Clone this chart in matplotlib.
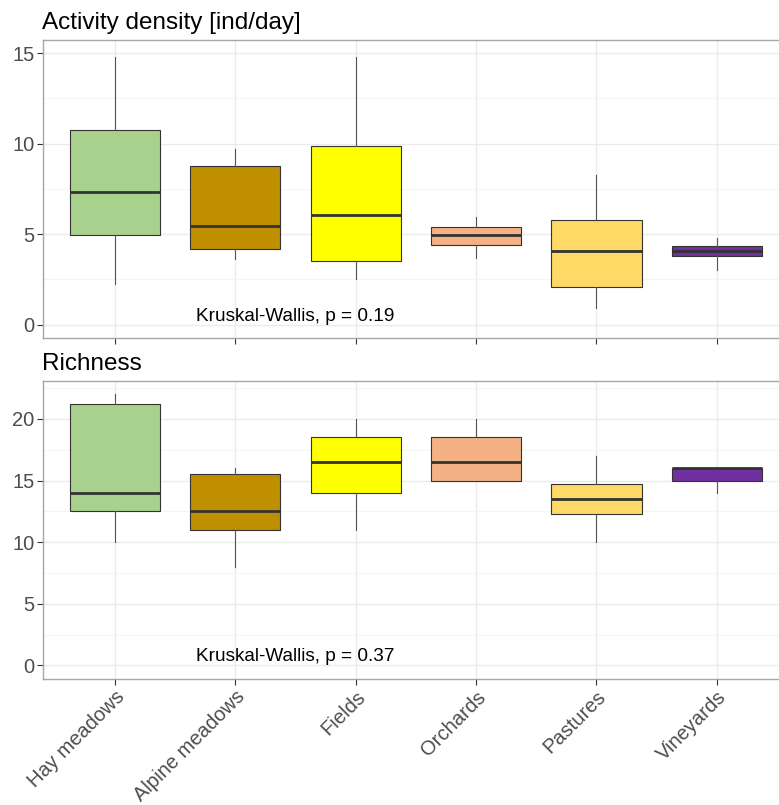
import matplotlib
matplotlib.use("Agg")
import matplotlib.pyplot as plt

plt.rcParams['font.family'] = ['Liberation Sans', 'DejaVu Sans']

# habitat categories and fill colours
habitats = ['Hay meadows', 'Alpine meadows', 'Fields', 'Orchards', 'Pastures', 'Vineyards']
colors = ['#A9D18E', '#BF8F00', '#FFFF00', '#F4B183', '#FFD966', '#7030A0']

# activity density [ind/day]: lower whisker, Q1, median, Q3, upper whisker
act_low = [2.26, 3.64, 2.52, 3.68, 0.92, 3.04]
act_q1 = [4.95, 4.18, 3.52, 4.40, 2.08, 3.79]
act_med = [7.31, 5.45, 6.06, 4.93, 4.05, 4.05]
act_q3 = [10.73, 8.74, 9.88, 5.41, 5.80, 4.35]
act_high = [14.78, 9.72, 14.78, 5.95, 8.24, 4.80]

# richness
rich_low = [10.0, 8.0, 11.0, 15.0, 10.0, 14.0]
rich_q1 = [12.5, 11.0, 14.0, 15.0, 12.25, 15.0]
rich_med = [14.0, 12.5, 16.5, 16.5, 13.5, 16.0]
rich_q3 = [21.25, 15.5, 18.5, 18.5, 14.75, 16.0]
rich_high = [22.0, 16.0, 20.0, 20.0, 17.0, 16.0]

W, H = 779, 805
fig = plt.figure(figsize=(W / 100, H / 100), dpi=100)


def make_panel(top_px, bot_px, low, q1, med, q3, high, yticks, ylim, title, pval):
    ax = fig.add_axes([42.7 / W, 1 - bot_px / H, (789 - 42.7) / W, (bot_px - top_px) / H])
    stats = []
    for i in range(len(habitats)):
        stats.append(dict(whislo=low[i], q1=q1[i], med=med[i], q3=q3[i], whishi=high[i], fliers=[]))
    bp = ax.bxp(stats, positions=range(1, 7), widths=0.75, patch_artist=True, showcaps=False,
                boxprops=dict(edgecolor='#333333', linewidth=0.8),
                medianprops=dict(color='#333333', linewidth=2.0, solid_capstyle='butt'),
                whiskerprops=dict(color='#555555', linewidth=0.8), zorder=3)
    for patch, c in zip(bp['boxes'], colors):
        patch.set_facecolor(c)

    ax.set_yticks(yticks)
    minor = [(a + b) / 2 for a, b in zip(yticks[:-1], yticks[1:])]
    minor.append(yticks[-1] + (yticks[1] - yticks[0]) / 2)
    ax.set_yticks(minor, minor=True)
    ax.set_xticks(range(1, 7))
    ax.set_xlim(0.4, 6.6)
    ax.set_ylim(*ylim)
    ax.grid(True, which='major', color='#EBEBEB', linewidth=1.0, zorder=0)
    ax.grid(True, which='minor', axis='y', color='#F5F5F5', linewidth=0.8, zorder=0)
    ax.set_axisbelow(True)
    ax.tick_params(axis='both', which='major', length=4, color='#333333', width=0.8,
                   labelsize=14.5, labelcolor='#4D4D4D', pad=2)
    ax.tick_params(axis='y', which='minor', length=0)
    for s in ax.spines.values():
        s.set_color('#A6A6A6')
        s.set_linewidth(1.0)

    ax.text(1.67, 0, 'Kruskal-Wallis, p = ' + pval, fontsize=13.7, color='black',
            ha='left', va='bottom')
    fig.text(42 / W, 1 - (top_px - 11) / H, title, fontsize=17.5, color='black',
             ha='left', va='baseline')
    return ax


ax1 = make_panel(40, 338.3, act_low, act_q1, act_med, act_q3, act_high,
                 [0, 5, 10, 15], (-0.75, 15.72), 'Activity density [ind/day]', '0.19')
ax1.set_xticklabels([])

ax2 = make_panel(380.7, 679, rich_low, rich_q1, rich_med, rich_q3, rich_high,
                 [0, 5, 10, 15, 20], (-1.1, 23.1), 'Richness', '0.37')
ax2.set_xticklabels(habitats, rotation=45, ha='right', va='top', rotation_mode='anchor')

fig.savefig('out.png', dpi=100)
